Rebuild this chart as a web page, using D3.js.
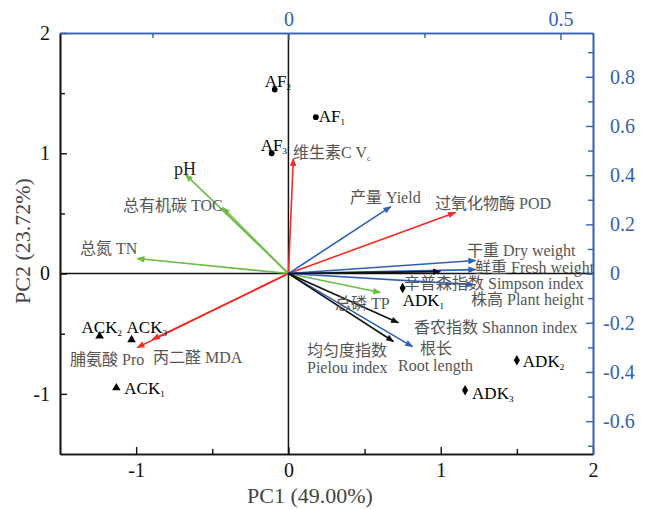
<!DOCTYPE html>
<html>
<head>
<meta charset="utf-8">
<script src="https://cdn.jsdelivr.net/npm/d3@7"></script>
<style>
  body { margin: 0; background: #fff; }
  text { font-family: "Liberation Serif", "Noto Sans CJK SC", serif; }
</style>
</head>
<body>
<div id="chart"></div>
<script>
// sample scores (PC1, PC2)
var sampleNames = ["AF", "AF", "AF", "ACK", "ACK", "ACK", "ADK", "ADK", "ADK"];
var sampleSubs = ["1", "2", "3", "1", "2", "3", "1", "2", "3"];
var samplePC1 = [0.18, -0.09, -0.11, -1.13, -1.24, -1.03, 0.75, 1.50, 1.16];
var samplePC2 = [1.30, 1.53, 1.00, -0.95, -0.52, -0.55, -0.12, -0.72, -0.97];
var sampleGroup = ["AF", "AF", "AF", "ACK", "ACK", "ACK", "ADK", "ADK", "ADK"];

// variable loadings (top / right axes)
var varNames = ["pH", "总有机碳 TOC", "总氮 TN", "总磷 TP", "维生素C Vc", "过氧化物酶 POD",
  "丙二醛 MDA", "脯氨酸 Pro", "产量 Yield", "干重 Dry weight", "鲜重 Fresh weight",
  "株高 Plant height", "根长 Root length", "辛普森指数 Simpson index",
  "香农指数 Shannon index", "均匀度指数 Pielou index"];
var varL1 = [-0.189, -0.121, -0.278, 0.169, 0.009, 0.307, -0.250, -0.278, 0.188, 0.344, 0.344, 0.340, 0.228, 0.279, 0.202, 0.193];
var varL2 = [0.402, 0.268, 0.061, -0.077, 0.467, 0.248, -0.268, -0.301, 0.272, 0.053, 0.016, -0.045, -0.297, 0.008, -0.200, -0.276];
var varType = ["soil", "soil", "soil", "soil", "phys", "phys", "phys", "phys",
  "plant", "plant", "plant", "plant", "plant", "micro", "micro", "micro"];

var pcTicks = [-1, 0, 1, 2];
var pcMinor = [-0.5, 0.5, 1.5];
var topTicks = [0, 0.5];
var topMinor = [-0.25, 0.25];
var rightTicks = [-0.6, -0.4, -0.2, 0, 0.2, 0.4, 0.6, 0.8];
var rightMinor = [-0.7, -0.5, -0.3, -0.1, 0.1, 0.3, 0.5, 0.7, 0.9];

var colors = { soil: "#6bbd45", phys: "#f52a22", plant: "#2e5fb5", micro: "#111" };
var blue = "#3561b3";

var W = 658, H = 509;
var L = 60, R = 593, T = 33, B = 454;

var svg = d3.select("#chart").append("svg").attr("width", W).attr("height", H);

var x = d3.scaleLinear().domain([-1.5, 2]).range([L, R]);
var y = d3.scaleLinear().domain([-1.5, 2]).range([B, T]);
var x2 = d3.scaleLinear().domain([(L - x(0)) / 544, (R - x(0)) / 544]).range([L, R]);
var y2 = d3.scaleLinear().domain([(y(0) - B) / 246, (y(0) - T) / 246]).range([B, T]);

function hy(d) { return d === 0 ? "0" : String(d).replace("−", "-"); }

// crosshair
svg.append("line").attr("x1", x(0)).attr("x2", x(0)).attr("y1", T).attr("y2", B)
  .attr("stroke", "#111").attr("stroke-width", 1.5);
svg.append("line").attr("x1", L).attr("x2", R).attr("y1", y(0)).attr("y2", y(0))
  .attr("stroke", "#111").attr("stroke-width", 1.5);

// axes
function styleAxis(g, col, size) {
  g.select(".domain").attr("stroke", col).attr("stroke-width", 1.6);
  g.selectAll(".tick line").attr("stroke", col).attr("stroke-width", 1.4);
  g.selectAll(".tick text").attr("fill", col).style("font-size", size + "px");
}
var gb = svg.append("g").attr("transform", "translate(0," + B + ")")
  .call(d3.axisBottom(x).tickValues(pcTicks).tickFormat(hy).tickSizeInner(-7).tickSizeOuter(0).tickPadding(9));
styleAxis(gb, "#111", 20);
var gbm = svg.append("g").attr("transform", "translate(0," + B + ")")
  .call(d3.axisBottom(x).tickValues(pcMinor).tickFormat("").tickSizeInner(-5).tickSizeOuter(0));
styleAxis(gbm, "#111", 20);

var gl = svg.append("g").attr("transform", "translate(" + L + ",0)")
  .call(d3.axisLeft(y).tickValues(pcTicks).tickFormat(hy).tickSizeInner(-7).tickSizeOuter(0).tickPadding(10));
styleAxis(gl, "#111", 20);
var glm = svg.append("g").attr("transform", "translate(" + L + ",0)")
  .call(d3.axisLeft(y).tickValues(pcMinor).tickFormat("").tickSizeInner(-5).tickSizeOuter(0));
styleAxis(glm, "#111", 20);

var gt = svg.append("g").attr("transform", "translate(0," + T + ")")
  .call(d3.axisTop(x2).tickValues(topTicks).tickFormat(hy).tickSizeInner(-7).tickSizeOuter(0).tickPadding(7));
styleAxis(gt, blue, 20);
var gtm = svg.append("g").attr("transform", "translate(0," + T + ")")
  .call(d3.axisTop(x2).tickValues(topMinor).tickFormat("").tickSizeInner(-5).tickSizeOuter(0));
styleAxis(gtm, blue, 20);

var gr = svg.append("g").attr("transform", "translate(" + R + ",0)")
  .call(d3.axisRight(y2).tickValues(rightTicks).tickFormat(hy).tickSizeInner(-7).tickSizeOuter(0).tickPadding(17));
styleAxis(gr, blue, 20);
gr.selectAll(".tick text").attr("dx", function(d) { return d < 0 ? -7 : 0; });
var grm = svg.append("g").attr("transform", "translate(" + R + ",0)")
  .call(d3.axisRight(y2).tickValues(rightMinor).tickFormat("").tickSizeInner(-5).tickSizeOuter(0));
styleAxis(grm, blue, 20);

// axis titles
svg.append("text").attr("x", 310).attr("y", 503).attr("text-anchor", "middle")
  .attr("fill", "#444").style("font-size", "22px").text("PC1 (49.00%)");
svg.append("text").attr("transform", "translate(30,241) rotate(-90)").attr("text-anchor", "middle")
  .attr("fill", "#444").style("font-size", "22px").text("PC2 (23.72%)");

// arrow markers
var defs = svg.append("defs");
Object.keys(colors).forEach(function(k) {
  defs.append("marker").attr("id", "ah-" + k)
    .attr("viewBox", "0 0 10 10").attr("refX", 9).attr("refY", 5)
    .attr("markerUnits", "userSpaceOnUse").attr("markerWidth", 11).attr("markerHeight", 8)
    .attr("orient", "auto")
    .append("path").attr("d", "M0,1 L10,5 L0,9 Z").attr("fill", colors[k]);
});

var vars = varNames.map(function(n, i) {
  return { name: n, l1: varL1[i], l2: varL2[i], type: varType[i] };
});
svg.append("g").selectAll("line").data(vars).enter().append("line")
  .attr("x1", x2(0)).attr("y1", y2(0))
  .attr("x2", function(d) { return x2(d.l1); })
  .attr("y2", function(d) { return y2(d.l2); })
  .attr("stroke", function(d) { return colors[d.type]; })
  .attr("stroke-width", 1.6)
  .attr("marker-end", function(d) { return "url(#ah-" + d.type + ")"; });

// variable labels (pixel anchors)
var varLabels = [
  { t: "总有机碳 TOC", x: 123, y: 211 },
  { t: "总氮 TN", x: 80, y: 254 },
  { t: "总磷 TP", x: 335, y: 309 },
  { t: "产量 Yield", x: 350, y: 203 },
  { t: "过氧化物酶 POD", x: 435, y: 209 },
  { t: "干重 Dry weight", x: 467, y: 256 },
  { t: "鲜重 Fresh weight", x: 475, y: 273 },
  { t: "辛普森指数 Simpson index", x: 404, y: 289 },
  { t: "株高 Plant height", x: 471, y: 305 },
  { t: "香农指数 Shannon index", x: 414, y: 333 },
  { t: "根长", x: 420, y: 354 },
  { t: "Root length", x: 398, y: 371 },
  { t: "均匀度指数", x: 307, y: 356 },
  { t: "Pielou index", x: 307, y: 373 },
  { t: "脯氨酸 Pro", x: 70, y: 365 },
  { t: "丙二醛 MDA", x: 153, y: 363 }
];
svg.append("g").selectAll("text").data(varLabels).enter().append("text")
  .attr("x", function(d) { return d.x; }).attr("y", function(d) { return d.y; })
  .attr("fill", "#555")
  .style("font-size", "16px").text(function(d) { return d.t; });

svg.append("text").attr("x", 174).attr("y", 175).attr("fill", "#222")
  .style("font-size", "18px").text("pH");

var vc = svg.append("text").attr("x", 293).attr("y", 158).attr("fill", "#555").style("font-size", "16px");
vc.append("tspan").text("维生素C V");
vc.append("tspan").attr("dy", 3).style("font-size", "8px").text("c");

// samples
var samples = sampleNames.map(function(n, i) {
  return { name: n, sub: sampleSubs[i], pc1: samplePC1[i], pc2: samplePC2[i], g: sampleGroup[i] };
});
var symbolOf = { AF: d3.symbolCircle, ACK: d3.symbolTriangle, ADK: d3.symbolDiamond };
svg.append("g").selectAll("path").data(samples).enter().append("path")
  .attr("transform", function(d) { return "translate(" + x(d.pc1) + "," + y(d.pc2) + ")"; })
  .attr("d", function(d) { return d3.symbol().type(symbolOf[d.g]).size(d.g === "AF" ? 26 : 32)(); })
  .attr("fill", "#000");

// sample label offsets from marker, px
var sampleOff = [[3, 5], [-10, -3], [-11, -2], [8, 6], [-18, -3], [-5, -7], [0, 18], [6, 7], [7, 9]];
var sl = svg.append("g").selectAll("text").data(samples).enter().append("text")
  .attr("x", function(d, i) { return x(d.pc1) + sampleOff[i][0]; })
  .attr("y", function(d, i) { return y(d.pc2) + sampleOff[i][1]; })
  .attr("fill", "#000").style("font-size", "17px");
sl.append("tspan").text(function(d) { return d.name; });
sl.append("tspan").attr("dy", 3).style("font-size", "9px").text(function(d) { return d.sub; });
</script>
</body>
</html>
